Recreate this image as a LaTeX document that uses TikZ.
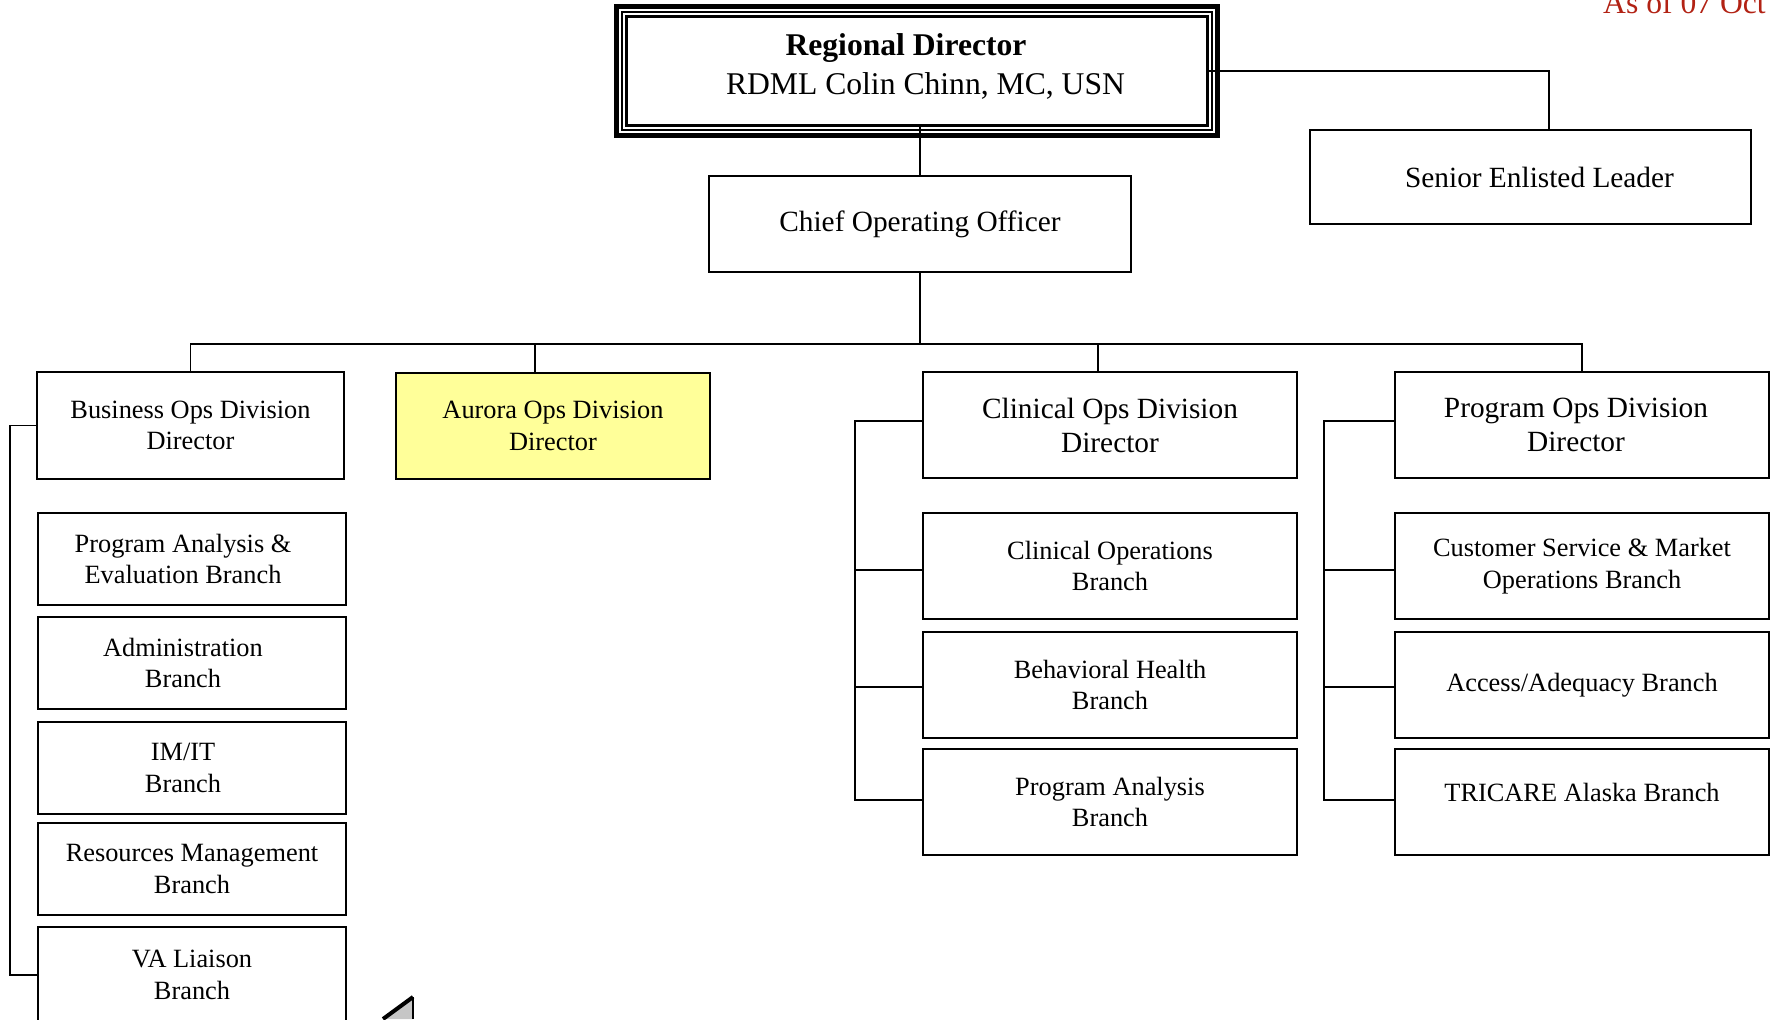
\documentclass[tikz,border=0pt]{standalone}
\usepackage{fontspec}
\setmainfont{Liberation Serif}
\usepackage{xcolor}
\usepackage{tikz}
\usetikzlibrary{positioning,calc}

\definecolor{aurorayellow}{RGB}{255,255,153}
\definecolor{asofred}{RGB}{178,34,20}
\newcommand{\px}{0.02cm}

\tikzset{
  orgbox/.style={draw, line width=0.95pt, align=center, inner sep=0pt, outer sep=0pt,
    font=\fontsize{15}{18}\selectfont},
  bigtext/.style={font=\fontsize{16.7}{19.3}\selectfont},
  clinbox/.style={orgbox, minimum width=374*\px, minimum height=106*\px},
  leftbox/.style={orgbox, line width=1.3pt, minimum width=308*\px, minimum height=92*\px},
  link/.style={line width=0.75pt},
}

\begin{document}
\begin{tikzpicture}[x=\px, y=-\px]
    \useasboundingbox (0,0) rectangle (1771,1019);

    % Top of the chart
    \node[orgbox, line width={3*\px}, minimum width=581*\px, minimum height=109*\px] (rd) at (917,71) {};
    \draw[line width={1.5*\px}] ([shift={(-4.5,-4.5)}]rd.north west) rectangle ([shift={(4.5,4.5)}]rd.south east);
    \draw[line width={5*\px}] ([shift={(-10,-10)}]rd.north west) rectangle ([shift={(10,10)}]rd.south east);
    \node[align=center, inner sep=0pt, font=\fontsize{18}{21.8}\selectfont] (rdtext) at (917,66.5)
          {\textbf{Regional Director}\hspace*{0.44cm}\\\hspace*{0.34cm}RDML Colin Chinn, MC, USN};

    \node[orgbox, bigtext, minimum width=441*\px, minimum height=94*\px] (sel) at (1530.5,177) {\hspace*{0.36cm}Senior Enlisted Leader};
    \node[orgbox, bigtext, minimum width=422*\px, minimum height=96*\px] (coo) at (920,224) {Chief Operating Officer};

    \node[anchor=base west, text=asofred, font=\fontsize{18}{21.8}\selectfont] (asof) at (1597,13) {As of 07 Oct};

    % Division directors
    \node[orgbox, line width=1.3pt, minimum width=307*\px, minimum height=107*\px] (bizdir) at (190.5,425.5) {Business Ops Division\\Director};
    \node[orgbox, line width=1.3pt, fill=aurorayellow, minimum width=314*\px, minimum height=106*\px] (aurora) at (553,426) {Aurora Ops Division\\Director};
    \node[clinbox, bigtext] (clindir) at (1110,425) {Clinical Ops Division\\Director};
    \node[clinbox, bigtext] (progdir) at (1582,425) {Program Ops Division\hspace*{0.24cm}\\Director\hspace*{0.24cm}};

    % Business branches
    \node[leftbox] (pae) at (192,559) {Program Analysis \&\hspace*{0.36cm}\\Evaluation Branch\hspace*{0.36cm}};
    \node[leftbox] (admin) at (192,663) {Administration\hspace*{0.36cm}\\Branch\hspace*{0.36cm}};
    \node[leftbox] (imit) at (192,768) {IM/IT\hspace*{0.36cm}\\Branch\hspace*{0.36cm}};
    \node[leftbox] (resmgmt) at (192,869) {Resources Management\\Branch};
    \node[leftbox, minimum height=96*\px] (valiaison) at (192,975) {VA Liaison\\Branch};

    % Clinical branches
    \node[clinbox] (clinops) at (1110,566) {Clinical Operations\\Branch};
    \node[clinbox] (bhealth) at (1110,685) {Behavioral Health\\Branch};
    \node[clinbox] (clinpa) at (1110,802) {Program Analysis\\Branch};

    % Program branches
    \node[clinbox] (custsvc) at (1582,566) {Customer Service \& Market\\Operations Branch};
    \node[clinbox] (access) at (1582,685) {Access/Adequacy Branch};
    \node[clinbox] (tricare) at (1582,802) {\raisebox{0.2cm}[\height][\depth]{TRICARE Alaska Branch}};

    % Lines
    \draw[link] (rd.east) -| ($(sel.north)+(18.5,0)$);
    \draw[link] (rd.south -| coo.north) -- (coo.north);
    \coordinate (bus) at (920,344);
    \draw[link] (coo.south) -- (bus);
    \draw[link] (bizdir.north) |- (bus) -| (progdir.north);
    \draw[link] ($(aurora.north)+(-18,0)$) |- (bus);
    \draw[link] ($(clindir.north)+(-12,0)$) |- (bus);

    \draw[link] (bizdir.west) -- ++(-27,0) |- (valiaison.west);
    \draw[link] ($(clindir.west)+(0,-4)$) -- ++(-68,0) coordinate (clinspine) |- ($(clinpa.west)+(0,-2)$);
    \foreach \b/\dy in {clinops/4,bhealth/2}
        \draw[link] ($(\b.west)+(0,\dy)$) -- ++(-68,0);
    \draw[link] ($(progdir.west)+(0,-4)$) -- ++(-71,0) coordinate (progspine) |- ($(tricare.west)+(0,-2)$);
    \foreach \b/\dy in {custsvc/4,access/2}
        \draw[link] ($(\b.west)+(0,\dy)$) -- ++(-71,0);

    % corner of a shape at the bottom edge
    \fill[gray!45] (383,1019) -- (413,997) -- (413,1019) -- cycle;
    \draw[line width={4*\px}] (383,1019) -- (413,997);
    \draw[line width={2*\px}] (413,997) -- (413,1019);
\end{tikzpicture}
\end{document}
